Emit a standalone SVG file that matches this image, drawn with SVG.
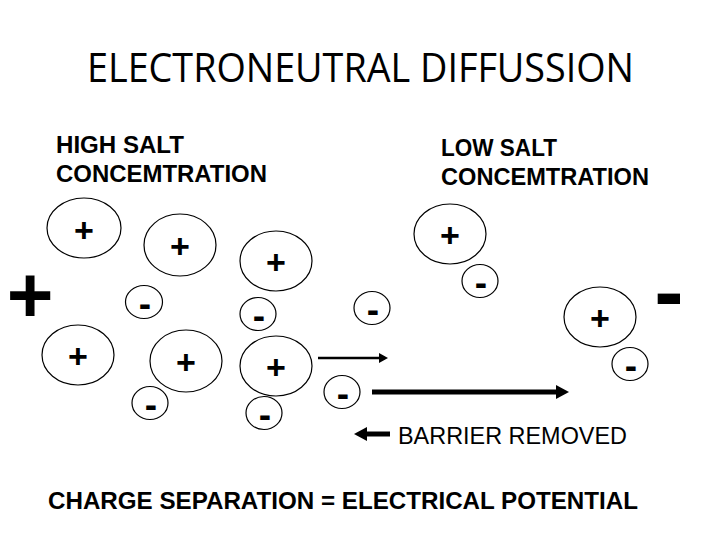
<svg xmlns="http://www.w3.org/2000/svg" width="720" height="540" viewBox="0 0 720 540">
<defs>
<style>
.ion{fill:none;stroke:#000;stroke-width:1.2}
.pos{font-family:"Liberation Sans",Arial,sans-serif;font-weight:bold;font-size:34px;text-anchor:middle;fill:#000}
.neg{font-family:"Liberation Sans",Arial,sans-serif;font-weight:bold;font-size:37px;text-anchor:middle;fill:#000}
.lbl{font-family:"Liberation Sans",Arial,sans-serif;font-weight:bold;font-size:23px;fill:#000}
.reg{font-family:"Liberation Sans",Arial,sans-serif;font-size:23px;fill:#000}
.title{font-family:"Open Sans","Noto Sans",sans-serif;font-size:40px;fill:#000}
.arr{stroke:#000;fill:none}
</style>
<marker id="hs" markerUnits="userSpaceOnUse" markerWidth="10" markerHeight="11" refX="6" refY="5" orient="auto">
<path d="M0,0 L9,5 L0,10 z" fill="#000"/>
</marker>
<marker id="hl" markerUnits="userSpaceOnUse" markerWidth="14" markerHeight="15" refX="6" refY="7" orient="auto">
<path d="M0,0 L13,7 L0,14 z" fill="#000"/>
</marker>
</defs>
<rect width="720" height="540" fill="#fff"/>

<g id="title"><text class="title" x="87" y="82" textLength="547" lengthAdjust="spacingAndGlyphs">ELECTRONEUTRAL DIFFUSSION</text></g>
<g id="high-label">
<text class="lbl" x="56" y="153" textLength="128" lengthAdjust="spacingAndGlyphs">HIGH SALT</text>
<text class="lbl" x="56" y="182" textLength="211" lengthAdjust="spacingAndGlyphs">CONCEMTRATION</text>
</g>
<g id="low-label">
<text class="lbl" x="441" y="156" textLength="116" lengthAdjust="spacingAndGlyphs">LOW SALT</text>
<text class="lbl" x="441" y="185" textLength="208" lengthAdjust="spacingAndGlyphs">CONCEMTRATION</text>
</g>

<g id="big-plus"><text class="pos" style="font-size:80px" x="30" y="322">+</text></g>
<g id="big-minus"><text class="neg" style="font-size:88px" x="669" y="321">-</text></g>

<g id="cat1"><ellipse class="ion" cx="84" cy="228" rx="37" ry="30"/><text class="pos" x="84" y="242">+</text></g>
<g id="cat2"><ellipse class="ion" cx="180" cy="245" rx="36" ry="31"/><text class="pos" x="180" y="258">+</text></g>
<g id="cat3"><ellipse class="ion" cx="276" cy="261" rx="36" ry="30"/><text class="pos" x="276" y="274">+</text></g>
<g id="cat4"><ellipse class="ion" cx="78" cy="355" rx="36" ry="30"/><text class="pos" x="78" y="368">+</text></g>
<g id="cat5"><ellipse class="ion" cx="186" cy="361" rx="36" ry="31"/><text class="pos" x="186" y="374">+</text></g>
<g id="cat6"><ellipse class="ion" cx="276" cy="366" rx="36" ry="30"/><text class="pos" x="276" y="379">+</text></g>
<g id="cat7"><ellipse class="ion" cx="450" cy="234" rx="36" ry="30"/><text class="pos" x="450" y="247">+</text></g>
<g id="cat8"><ellipse class="ion" cx="600" cy="317" rx="36" ry="30"/><text class="pos" x="600" y="330">+</text></g>

<g id="an1"><ellipse class="ion" cx="144" cy="302" rx="18.5" ry="16.5"/><text class="neg" x="145" y="316">-</text></g>
<g id="an2"><ellipse class="ion" cx="258" cy="314" rx="18" ry="16.5"/><text class="neg" x="259" y="328">-</text></g>
<g id="an3"><ellipse class="ion" cx="150" cy="403" rx="18" ry="16.5"/><text class="neg" x="151" y="417">-</text></g>
<g id="an4"><ellipse class="ion" cx="264" cy="413" rx="18" ry="16.5"/><text class="neg" x="265" y="427">-</text></g>
<g id="an5"><ellipse class="ion" cx="342" cy="392" rx="18" ry="16.5"/><text class="neg" x="343" y="406">-</text></g>
<g id="an6"><ellipse class="ion" cx="372" cy="308" rx="18" ry="16.5"/><text class="neg" x="373" y="322">-</text></g>
<g id="an7"><ellipse class="ion" cx="480" cy="281" rx="18" ry="16.5"/><text class="neg" x="481" y="295">-</text></g>
<g id="an8"><ellipse class="ion" cx="630" cy="364" rx="18" ry="16.5"/><text class="neg" x="631" y="378">-</text></g>

<g id="connectors">
<line class="arr" x1="318" y1="358" x2="385" y2="358" stroke-width="2.5" marker-end="url(#hs)"/>
<line class="arr" x1="372" y1="392" x2="562" y2="392" stroke-width="5" marker-end="url(#hl)"/>
<line class="arr" x1="390" y1="434" x2="361" y2="434" stroke-width="5" marker-end="url(#hl)"/>
</g>

<g id="barrier-label"><text class="reg" x="398" y="444" textLength="229" lengthAdjust="spacingAndGlyphs">BARRIER REMOVED</text></g>
<g id="bottom-label"><text class="lbl" x="48" y="509" textLength="590" lengthAdjust="spacingAndGlyphs">CHARGE SEPARATION = ELECTRICAL POTENTIAL</text></g>
</svg>
